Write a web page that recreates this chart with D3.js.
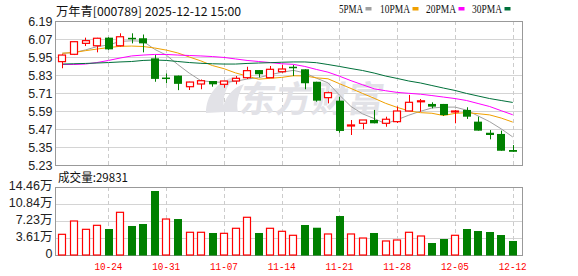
<!DOCTYPE html>
<html><head><meta charset="utf-8">
<script src="https://cdn.jsdelivr.net/npm/d3@7"></script>
<style>html,body{margin:0;padding:0;background:#fff;overflow:hidden}</style>
</head><body><svg id="c" width="578" height="276"></svg>
<script>
const title = '万年青[000789] 2025-12-12 15:00';
const dates = ['10-20','10-21','10-22','10-23','10-24','10-27','10-28','10-29','10-30','10-31',
  '11-03','11-04','11-05','11-06','11-07','11-10','11-11','11-12','11-13','11-14',
  '11-17','11-18','11-19','11-20','11-21','11-24','11-25','11-26','11-27','11-28',
  '12-01','12-02','12-03','12-04','12-05','12-08','12-09','12-10','12-11','12-12'];
const open  = [5.919,5.968,6.041,6.025,6.079,6.025,6.078,6.075,5.941,5.813,
  5.826,5.752,5.770,5.790,5.768,5.790,5.812,5.863,5.812,5.852,
  5.885,5.868,5.785,5.679,5.659,5.490,5.508,5.530,5.508,5.519,
  5.590,5.652,5.637,5.637,5.585,5.597,5.519,5.445,5.437,5.330];
const high  = [5.968,6.055,6.079,6.078,6.082,6.108,6.108,6.100,5.963,5.840,
  5.826,5.785,5.800,5.790,5.790,5.823,5.885,5.863,5.890,5.897,
  5.897,5.868,5.785,5.719,5.685,5.530,5.530,5.597,5.552,5.620,
  5.697,5.670,5.648,5.637,5.597,5.615,5.552,5.463,5.459,5.363];
const low   = [5.875,5.963,6.023,5.981,5.998,6.020,6.041,5.981,5.785,5.775,
  5.729,5.730,5.735,5.752,5.745,5.768,5.803,5.815,5.812,5.845,
  5.823,5.735,5.652,5.641,5.445,5.430,5.468,5.508,5.485,5.510,
  5.590,5.585,5.608,5.557,5.508,5.537,5.459,5.401,5.325,5.318];
const close = [5.963,6.052,6.059,6.075,6.001,6.085,6.072,6.041,5.804,5.808,
  5.771,5.783,5.792,5.768,5.790,5.808,5.859,5.835,5.868,5.870,
  5.877,5.775,5.659,5.712,5.457,5.497,5.530,5.508,5.535,5.590,
  5.648,5.658,5.619,5.563,5.590,5.552,5.459,5.430,5.325,5.318];
const volume = [44000,72300,54600,63100,55300,90800,61700,65900,136100,76500,
  76500,48300,48300,46800,46100,56800,80200,46800,56800,50400,
  41900,63800,58000,44700,82900,44700,36100,46800,29800,31900,
  48300,40400,25500,34000,41900,55300,51000,48900,42500,29831];
const volUp = [1,1,1,1,0,1,0,0,0,1, 0,1,1,0,1,1,1,0,1,1, 1,0,0,1,0,1,1,0,1,1, 1,1,0,0,1,0,0,0,0,0];
const ma5  = [5.975,5.979,5.997,6.019,6.030,6.054,6.058,6.055,6.001,5.963,
  5.900,5.842,5.792,5.784,5.781,5.788,5.803,5.812,5.832,5.848,
  5.861,5.844,5.809,5.778,5.696,5.620,5.571,5.540,5.505,5.532,
  5.562,5.588,5.610,5.616,5.616,5.596,5.557,5.519,5.471,5.417];
const ma10 = [5.975,5.980,5.992,6.003,6.013,6.021,6.023,6.020,6.010,5.996,
  5.977,5.950,5.924,5.893,5.872,5.844,5.823,5.802,5.808,5.814,
  5.825,5.824,5.811,5.805,5.772,5.740,5.707,5.675,5.641,5.614,
  5.591,5.579,5.575,5.560,5.574,5.579,5.572,5.564,5.543,5.516];
const ma20 = [5.900,5.900,5.903,5.913,5.927,5.943,5.957,5.963,5.967,5.967,
  5.963,5.960,5.957,5.953,5.947,5.937,5.927,5.920,5.913,5.905,
  5.901,5.887,5.867,5.849,5.822,5.792,5.765,5.738,5.725,5.714,
  5.708,5.702,5.693,5.683,5.673,5.660,5.640,5.620,5.592,5.565];
const ma30 = [5.903,5.905,5.907,5.910,5.913,5.917,5.920,5.927,5.930,5.927,
  5.920,5.913,5.908,5.905,5.903,5.903,5.907,5.910,5.912,5.915,
  5.917,5.917,5.912,5.900,5.887,5.873,5.860,5.843,5.823,5.807,
  5.790,5.777,5.760,5.743,5.727,5.707,5.690,5.673,5.660,5.647];
const maNames = ['5PMA','10PMA','20PMA','30PMA'];
const priceTicks = [6.19,6.07,5.95,5.83,5.71,5.59,5.47,5.35,5.23];
const volTicks = [0,36150,72300,108450,144600];
const xTickDates = ['10-24','10-31','11-07','11-14','11-21','11-28','12-05','12-12'];
const volTitle = '成交量:29831';

const RED = '#ff0000', GREEN = '#008000';
const maColors = ['#a0a0a0','#f0a000','#ff00ff','#00703a'];
const svg = d3.select('#c');
const L = 55.5, R = 522.5;
const x = d3.scaleBand().domain(dates).range([56.5, 518.5]).paddingInner(0.34).paddingOuter(0.17);
const bw = x.bandwidth();
const cx = d => x(d) + bw / 2;
const y = d3.scaleLinear().domain([5.23, 6.19]).range([165, 21]);
const yv = d3.scaleLinear().domain([0, 144600]).range([255, 187]);

// gridlines
const g = svg.append('g');
g.selectAll('line.hp').data(priceTicks).join('line')
  .attr('x1', L).attr('x2', R).attr('y1', d => Math.round(y(d)) + 0.5).attr('y2', d => Math.round(y(d)) + 0.5)
  .attr('stroke', '#d4d4d4');
g.selectAll('line.hv').data(volTicks).join('line')
  .attr('x1', L).attr('x2', R).attr('y1', d => Math.round(yv(d)) + 0.5).attr('y2', d => Math.round(yv(d)) + 0.5)
  .attr('stroke', '#d4d4d4');
xTickDates.forEach(d => {
  const xx = Math.round(cx(d)) + 0.5;
  [[21, 165], [187, 255]].forEach(([a, b]) => {
    g.append('line').attr('x1', xx).attr('x2', xx).attr('y1', a).attr('y2', b)
      .attr('stroke', '#cccccc').attr('stroke-dasharray', '4,3');
  });
});

// watermark
const wm = svg.append('g').attr('fill', '#e2e2e7');
wm.append('path').attr('d', 'M206,113 C206,96 216,82 236,76 C226,86 222,96 224,112 Z M222,112 C224,98 232,88 244,84 C238,94 236,104 238,112 Z');
wm.append('text').attr('x', 240).attr('y', 112).attr('font-size', 36).attr('font-weight', 'bold')
  .attr('font-family', '"Noto Sans CJK SC"').attr('transform', 'skewX(-8) translate(14,0)')
  .attr('textLength', 144).attr('lengthAdjust', 'spacingAndGlyphs').text('东方财富');

// borders
svg.append('rect').attr('x', L).attr('y', 21.5).attr('width', R - L).attr('height', 144).attr('fill', 'none').attr('stroke', '#999');
svg.append('rect').attr('x', L).attr('y', 187.5).attr('width', R - L).attr('height', 68).attr('fill', 'none').attr('stroke', '#999');

// MA lines
[ma5, ma10, ma20, ma30].forEach((arr, k) => {
  svg.append('path').datum(arr)
    .attr('d', d3.line().x((v, i) => cx(dates[i])).y(v => y(v)))
    .attr('fill', 'none').attr('stroke', maColors[k]).attr('stroke-width', 1);
});

// candles
const cg = svg.append('g');
dates.forEach((d, i) => {
  const up = close[i] >= open[i];
  const col = up ? RED : GREEN;
  const xc = Math.round(cx(d)) + 0.5;
  const left = Math.round(x(d)) + 0.5, w = Math.round(bw) - 1;
  const top = y(Math.max(open[i], close[i])), bot = y(Math.min(open[i], close[i]));
  if (up) {
    cg.append('line').attr('x1', xc).attr('x2', xc).attr('y1', y(high[i])).attr('y2', top).attr('stroke', col);
    cg.append('line').attr('x1', xc).attr('x2', xc).attr('y1', bot).attr('y2', y(low[i])).attr('stroke', col);
    cg.append('rect').attr('x', left).attr('y', top).attr('width', w).attr('height', Math.max(bot - top, 1))
      .attr('fill', '#fff').attr('stroke', col).attr('stroke-width', 1.2);
  } else {
    cg.append('line').attr('x1', xc).attr('x2', xc).attr('y1', y(high[i])).attr('y2', y(low[i])).attr('stroke', col);
    cg.append('rect').attr('x', left - 0.5).attr('y', top).attr('width', w + 1).attr('height', Math.max(bot - top, 1.5))
      .attr('fill', col);
  }
});

// volume bars
const vg = svg.append('g');
dates.forEach((d, i) => {
  const left = Math.round(x(d)) + 0.5, w = Math.round(bw) - 1;
  if (volUp[i]) {
    vg.append('rect').attr('x', left).attr('y', yv(volume[i])).attr('width', w).attr('height', 255 - yv(volume[i]))
      .attr('fill', '#fff').attr('stroke', RED).attr('stroke-width', 1.2);
  } else {
    vg.append('rect').attr('x', left - 0.5).attr('y', yv(volume[i])).attr('width', w + 1).attr('height', 255.5 - yv(volume[i]))
      .attr('fill', GREEN);
  }
});

// axis labels
const axFont = '"Liberation Sans", Arial, sans-serif';
svg.append('g').selectAll('text').data(priceTicks).join('text')
  .attr('x', 52.5).attr('y', d => y(d)).attr('dy', '0.36em').attr('text-anchor', 'end')
  .attr('font-family', axFont).attr('font-size', 12.5).attr('fill', '#222')
  .text(d => d.toFixed(2));
svg.append('g').selectAll('text').data(volTicks).join('text')
  .attr('x', 52.5).attr('y', d => yv(d) - 2).attr('dy', '0.36em').attr('text-anchor', 'end')
  .attr('font-family', axFont + ', "Noto Sans CJK SC"').attr('font-size', 12.5).attr('fill', '#222')
  .text(d => d === 0 ? '0' : (Math.floor(d / 100) / 100).toFixed(2) + '万');
svg.append('g').selectAll('text').data(xTickDates).join('text')
  .attr('x', d => cx(d)).attr('y', 270).attr('text-anchor', 'middle')
  .attr('font-family', '"Liberation Mono", monospace').attr('font-size', 11.5).attr('fill', RED)
  .attr('textLength', 28).attr('lengthAdjust', 'spacingAndGlyphs')
  .text(d => d);

// title
svg.append('text').attr('x', 56).attr('y', 15.5).attr('font-family', '"Noto Sans CJK SC"').attr('font-size', 12)
  .attr('fill', '#111').attr('textLength', 185).attr('lengthAdjust', 'spacingAndGlyphs').text(title);
svg.append('text').attr('x', 58).attr('y', 182).attr('font-family', '"Noto Sans CJK SC"').attr('font-size', 12)
  .attr('fill', '#111').attr('textLength', 70).attr('lengthAdjust', 'spacingAndGlyphs').text(volTitle);

// legend
const legX = [339, 380, 426, 472];
const legW = [24, 30, 30, 30];
maNames.forEach((n, k) => {
  svg.append('text').attr('x', legX[k]).attr('y', 13).attr('font-family', '"Liberation Serif", serif')
    .attr('font-size', 12).attr('fill', '#111').attr('textLength', legW[k]).attr('lengthAdjust', 'spacingAndGlyphs').text(n);
  svg.append('rect').attr('x', legX[k] + legW[k] + 2.5).attr('y', 7).attr('width', 6).attr('height', 3.5).attr('fill', maColors[k]);
});
</script></body></html>
